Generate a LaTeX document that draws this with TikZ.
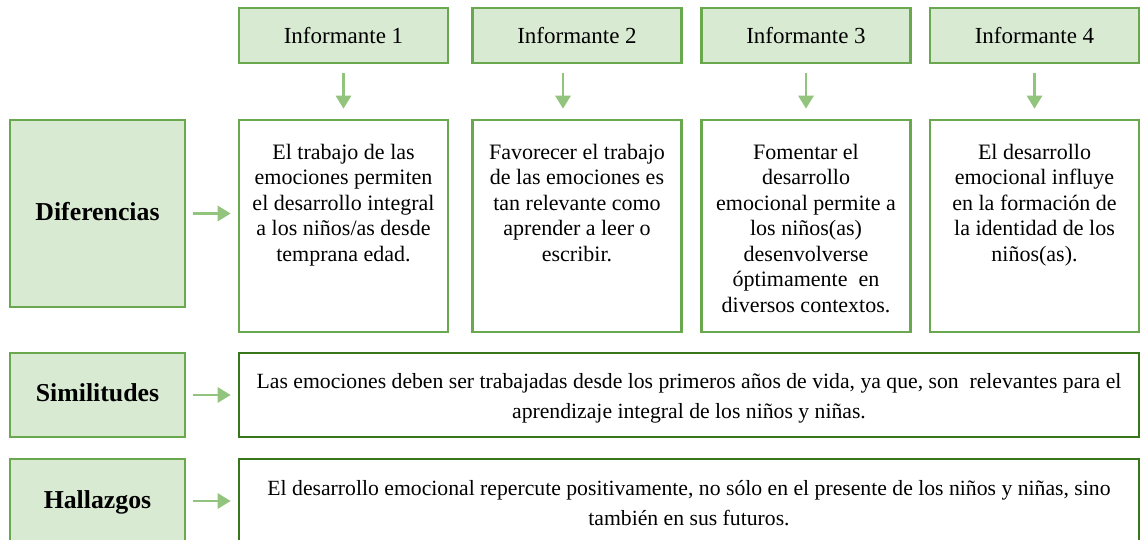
\documentclass[tikz,border=0pt]{standalone}
\usepackage{fontspec}
\setmainfont{Liberation Serif}
\usetikzlibrary{arrows.meta}
\definecolor{gfill}{HTML}{D9EAD3}
\definecolor{gline}{HTML}{6AA84F}
\definecolor{gdark}{HTML}{38761D}
\definecolor{garrow}{HTML}{93C47D}
\tikzset{
  hdr/.style={draw=gline, fill=gfill, line width=2.6pt, minimum width=209pt, minimum height=55pt, inner sep=0pt,
    font=\fontsize{23}{26}\selectfont},
  lbl/.style={draw=gline, fill=gfill, line width=2.6pt, minimum width=175pt, inner sep=0pt,
    font=\fontsize{25.8}{28}\selectfont\bfseries},
  tbox/.style={draw=gline, line width=2.6pt, minimum width=209pt, minimum height=212pt, inner sep=0pt},
  wbox/.style={draw=gdark, line width=2.6pt, minimum width=900pt, minimum height=84pt, inner sep=0pt},
  wtext/.style={inner sep=0pt, align=center, font=\fontsize{21.7}{30}\selectfont},
  ttext/.style={anchor=north, inner sep=0pt, align=center, font=\fontsize{22}{25.5}\selectfont},
  arr/.style={draw=garrow, line width=2.8pt, -{Triangle[length=13pt,width=15pt]}}
}
\begin{document}
\begin{tikzpicture}[x=1pt,y=-1pt]
\useasboundingbox (0,0) rectangle (1140,540);
\clip (0,0) rectangle (1140,540);
\fill[white] (0,0) rectangle (1140,540);

% header boxes
\node[hdr] (i1) at (343.5,35.5) {Informante 1};
\node[hdr] (i2) at (577,35.5) {Informante 2};
\node[hdr] (i3) at (806,35.5) {Informante 3};
\node[hdr] (i4) at (1034.5,35.5) {Informante 4};

% informant text boxes
\node[tbox] (t1) at (343.5,226) {};
\node[tbox] (t2) at (577,226) {};
\node[tbox] (t3) at (806,226) {};
\node[tbox] (t4) at (1034.5,226) {};

\node[ttext] (x1) at ([yshift=-25pt]t1.north) {El trabajo de las\\emociones permiten\\el desarrollo integral\\a los niños/as desde\\temprana edad.};
\node[ttext] (x2) at ([yshift=-25pt]t2.north) {Favorecer el trabajo\\de las emociones es\\tan relevante como\\aprender a leer o\\escribir.};
\node[ttext] (x3) at ([yshift=-25pt]t3.north) {Fomentar el\\desarrollo\\emocional permite a\\los niños(as)\\desenvolverse\\óptimamente\ \ en\\diversos contextos.};
\node[ttext] (x4) at ([yshift=-25pt]t4.north) {El desarrollo\\emocional influye\\en la formación de\\la identidad de los\\niños(as).};

% left labels
\node[lbl, minimum height=187pt] (dif) at (97.5,213.5) {};
\node[lbl, minimum height=84pt] (sim) at (97.5,395) {};
\node[lbl, minimum height=84pt] (hal) at (97.5,501) {};
\node[lbl, draw=none, fill=none] (difl) at ([yshift=2pt]dif.center) {Diferencias};
\node[lbl, draw=none, fill=none] (siml) at ([yshift=2pt]sim.center) {Similitudes};
\node[lbl, draw=none, fill=none] (hall) at ([yshift=-1pt]hal.center) {Hallazgos};

% wide boxes
\node[wbox] (ws) at (689,395) {};
\node[wbox] (wh) at (689,501) {};
\node[wtext] (wst) at ([yshift=-3pt]ws.center) {Las emociones deben ser trabajadas desde los primeros años de vida, ya que, son\ \ relevantes para el\\aprendizaje integral de los niños y niñas.};
\node[wtext] (wht) at ([yshift=-2pt]wh.center) {El desarrollo emocional repercute positivamente, no sólo en el presente de los niños y niñas, sino\\también en sus futuros.};

% vertical arrows
\draw[arr, shorten <=9pt, shorten >=10pt] (i1.south) -- (t1.north);
\draw[arr, shorten <=9pt, shorten >=10pt] ([xshift=-14pt]i2.south) -- ([xshift=-14pt]t2.north);
\draw[arr, shorten <=9pt, shorten >=10pt] (i3.south) -- (t3.north);
\draw[arr, shorten <=9pt, shorten >=10pt] (i4.south) -- (t4.north);

% horizontal arrows
\draw[arr, shorten <=7pt, shorten >=7pt] (dif.east) -- (dif.east -| t1.west);
\draw[arr, shorten <=7pt, shorten >=7pt] (sim.east) -- (ws.west);
\draw[arr, shorten <=7pt, shorten >=7pt] (hal.east) -- (wh.west);
\end{tikzpicture}
\end{document}
